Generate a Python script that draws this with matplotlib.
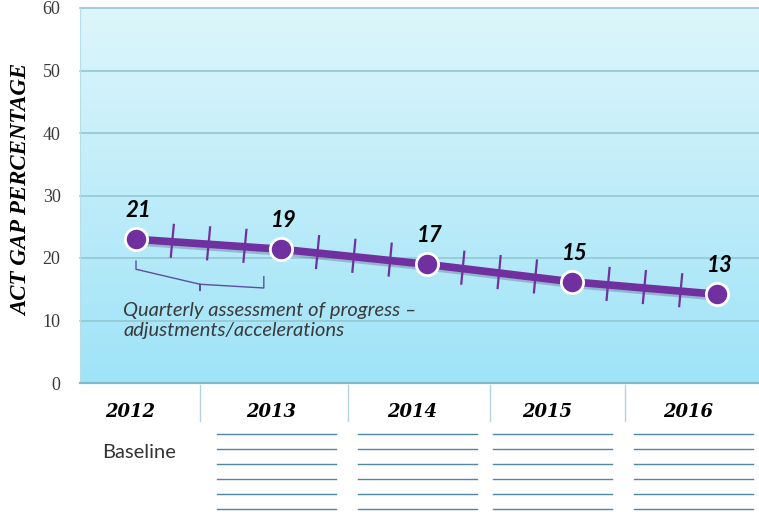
"""
ACT gap target chart: 2012 baseline to 2016, with quarterly checkpoints.
"""

import numpy as np
import matplotlib
matplotlib.use("Agg")
import matplotlib.pyplot as plt
import matplotlib.patheffects as pe
from matplotlib.colors import LinearSegmentedColormap


# ------------------------------------------------------------------
# data
# ------------------------------------------------------------------
years = [2012, 2013, 2014, 2015, 2016]
gap_labels = [21, 19, 17, 15, 13]            # values written on the chart
gap_plotted = [23.0, 21.4, 19.0, 16.2, 14.2]  # where the dots sit on the y scale
y_ticks = [0, 10, 20, 30, 40, 50, 60]
quarters_between = 3

year_text = ["2012", "2013", "2014", "2015", "2016"]
baseline_text = "Baseline"
note_text = "Quarterly assessment of progress \u2013\nadjustments/accelerations"

PURPLE = "#7030A0"

# ------------------------------------------------------------------
# figure / axes
# ------------------------------------------------------------------
W, H = 759, 512
fig = plt.figure(figsize=(W / 100, H / 100), dpi=100)
fig.patch.set_facecolor("white")

ax_l, ax_b, ax_t = 80 / W, 1 - 383 / H, 1 - 8 / H
ax = fig.add_axes([ax_l, ax_b, 1 - ax_l, ax_t - ax_b])

px_per_year = (717 - 136) / 4
xmin = years[0] - (136 - 80) / px_per_year
xmax = years[-1] + (W - 717) / px_per_year
ax.set_xlim(xmin, xmax)
ax.set_ylim(0, 60)

# gradient background
cmap = LinearSegmentedColormap.from_list("bg", ["#9fe3f8", "#ddf6fb"])
grad = np.linspace(0, 1, 256).reshape(-1, 1)
ax.imshow(grad, cmap=cmap, aspect="auto", origin="lower",
          extent=[xmin, xmax, 0, 60], zorder=0)

# grid
for yv in y_ticks[1:]:
    ax.axhline(yv, color="#93c7d2", lw=1.2, zorder=1, clip_on=False)

ax.set_yticks(y_ticks)
ax.set_yticklabels([str(v) for v in y_ticks], family="Liberation Serif",
                   fontsize=13, color="#3a3a3a")
ax.tick_params(axis="y", length=0, pad=14)
ax.set_xticks([])
for side in ["top", "right"]:
    ax.spines[side].set_visible(False)
ax.spines["left"].set_color("#b9dde6")
ax.spines["bottom"].set_color("#7fb8c6")
ax.spines["bottom"].set_linewidth(1.6)

fig.text(22 / W, 1 - 190 / H, "ACT GAP PERCENTAGE", rotation=90,
         ha="center", va="center", family="Liberation Serif",
         fontsize=16.5, fontweight="bold", fontstyle="italic", color="black")

# ------------------------------------------------------------------
# target line, quarter ticks, dots
# ------------------------------------------------------------------
shadow = [pe.SimpleLineShadow(offset=(2, -2), shadow_color="#5a5a7a", alpha=0.35),
          pe.Normal()]
ax.plot(years, gap_plotted, color=PURPLE, lw=5.5, zorder=3,
        solid_capstyle="round", path_effects=shadow)

half = 15 / 6.25     # tick half-length in y units
tilt = 1.5 / px_per_year
for i in range(len(years) - 1):
    for q in range(1, quarters_between + 1):
        f = q / (quarters_between + 1)
        xq = years[i] + f * (years[i + 1] - years[i])
        yq = gap_plotted[i] + f * (gap_plotted[i + 1] - gap_plotted[i])
        ax.plot([xq - tilt, xq + tilt], [yq - half, yq + half + 0.3],
                color=PURPLE, lw=1.6, zorder=3)

ax.plot(years, gap_plotted, "o", ms=16, mfc=PURPLE, mec="white", mew=2,
        zorder=5)

for x, y, lab in zip(years, gap_plotted, gap_labels):
    ax.annotate(str(lab), (x, y), xytext=(2, 13), textcoords="offset points",
                ha="center", va="bottom", family="Lato", fontsize=16,
                fontweight="bold", fontstyle="italic", color="black", zorder=6)

# bracket under the first year
bx0 = years[0]
bx1 = years[0] + 0.88
bmid = (bx0 + bx1) / 2
ax.plot([bx0, bx0, bmid, bmid, bmid, bx1, bx1],
        [19.5, 18.2, 15.8, 14.8, 15.8, 15.2, 17.0],
        color="#5b4fa0", lw=1.0, zorder=4)

ax.text(years[0] - 13 / px_per_year, 10.0, note_text, ha="left", va="center",
        family="Lato", fontstyle="italic", fontsize=14.5, color="#3a3a3a",
        linespacing=1.2, zorder=6)

# ------------------------------------------------------------------
# table under the chart
# ------------------------------------------------------------------
tab = fig.add_axes([ax_l, 0, 1 - ax_l, ax_b])
tab.set_xlim(xmin, xmax)
tab.set_ylim(512, 383)
tab.axis("off")

col_seps = [2012.44, 2013.46, 2014.44, 2015.37]
for xs in col_seps:
    tab.plot([xs, xs], [385, 421], color="#b5d3dc", lw=1.0)

year_x = [2011.96, 2012.93, 2013.90, 2014.83, 2015.80]
for xt, t in zip(year_x, year_text):
    tab.text(xt, 412, t, ha="center", va="center", family="DejaVu Serif",
             fontsize=13, fontweight="bold", fontstyle="italic", color="black")

tab.text(2012.02, 452, baseline_text, ha="center", va="center", family="Lato",
         fontsize=14.5, color="#333333")

row_y = [434, 449, 464, 479, 494, 509]
for xt in year_x[1:]:
    for yr in row_y:
        tab.plot([xt - 0.37, xt + 0.45], [yr, yr], color="#4f87a6", lw=1.0)

fig.savefig("out.png", dpi=100)
